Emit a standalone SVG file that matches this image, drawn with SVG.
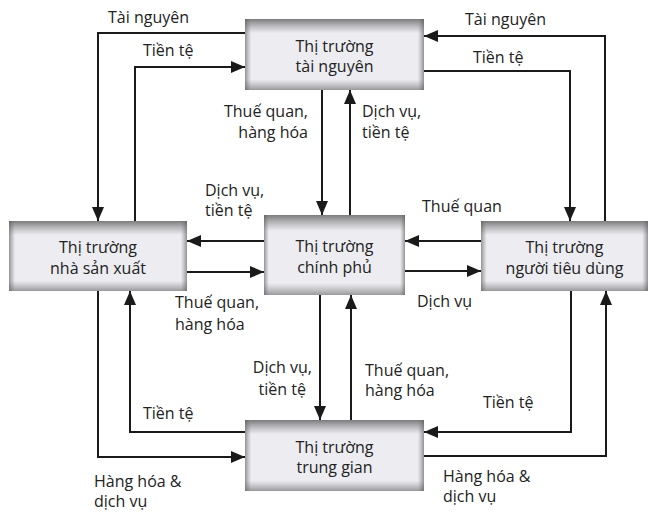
<svg xmlns="http://www.w3.org/2000/svg" width="652" height="513" viewBox="0 0 652 513">
<style>
.t{font-family:"Open Sans","Liberation Sans",sans-serif;font-size:16px;fill:#222}
.m{text-anchor:middle}
.e{text-anchor:end}
.c{fill:none;stroke:#1a1a1a;stroke-width:2;marker-end:url(#ah)}
.n{fill:none;stroke:#1a1a1a;stroke-width:2}
.base{fill:#ececf1}
.vg{fill:url(#vg)}
.hg{fill:url(#hg)}
</style>
<defs>
<linearGradient id="vg" x1="0" y1="0" x2="0" y2="1">
<stop offset="0" stop-color="#555" stop-opacity="0.75"/>
<stop offset="0.2" stop-color="#777" stop-opacity="0"/>
<stop offset="0.85" stop-color="#777" stop-opacity="0"/>
<stop offset="1" stop-color="#555" stop-opacity="0.55"/>
</linearGradient>
<linearGradient id="hg" x1="0" y1="0" x2="1" y2="0">
<stop offset="0" stop-color="#555" stop-opacity="0.6"/>
<stop offset="0.035" stop-color="#777" stop-opacity="0"/>
<stop offset="0.965" stop-color="#777" stop-opacity="0"/>
<stop offset="1" stop-color="#555" stop-opacity="0.6"/>
</linearGradient>
<marker id="ah" markerUnits="userSpaceOnUse" markerWidth="14" markerHeight="12" viewBox="0 0 14 12" refX="14" refY="6" orient="auto">
<path d="M0,0 L14,6 L0,12 z" fill="#1a1a1a"/>
</marker>
</defs>

<g id="connectors">
<!-- top-left -->
<path class="c" d="M245,33 H98 V221"/>
<path class="c" d="M135,221 V67 H245"/>
<!-- top-right -->
<path class="c" d="M605,221 V36 H424"/>
<path class="c" d="M424,71 H570 V221"/>
<!-- top-center -->
<path class="c" d="M322,90 V215"/>
<path class="c" d="M350,215 V90"/>
<!-- center-left -->
<path class="c" d="M264,241 H187"/>
<path class="c" d="M187,272 H264"/>
<!-- center-right -->
<path class="c" d="M481,241 H405"/>
<path class="c" d="M405,271 H481"/>
<!-- bottom-center -->
<path class="c" d="M320,295 V420"/>
<path class="c" d="M351,420 V295"/>
<!-- bottom-left -->
<path class="c" d="M245,432 H130 V291"/>
<path class="c" d="M98,291 V457 H245"/>
<!-- bottom-right -->
<path class="c" d="M571,291 V432 H424"/>
<path class="c" d="M424,456 H606 V291"/>
</g>

<g id="labels">
<text class="t" x="108" y="23">Tài nguyên</text>
<text class="t" x="143" y="56">Tiền tệ</text>
<text class="t" x="465" y="25">Tài nguyên</text>
<text class="t" x="473" y="63">Tiền tệ</text>
<text class="t e" x="308" y="117">Thuế quan,</text>
<text class="t e" x="308" y="138">hàng hóa</text>
<text class="t" x="362" y="117">Dịch vụ,</text>
<text class="t" x="362" y="138">tiền tệ</text>
<text class="t" x="205" y="196">Dịch vụ,</text>
<text class="t" x="205" y="216">tiền tệ</text>
<text class="t" x="422" y="212">Thuế quan</text>
<text class="t" x="175" y="308">Thuế quan,</text>
<text class="t" x="175" y="330">hàng hóa</text>
<text class="t" x="417" y="307">Dịch vụ</text>
<text class="t e" x="312" y="373">Dịch vụ,</text>
<text class="t e" x="306" y="395">tiền tệ</text>
<text class="t" x="365" y="376">Thuế quan,</text>
<text class="t" x="365" y="396">hàng hóa</text>
<text class="t" x="143" y="419">Tiền tệ</text>
<text class="t" x="483" y="408">Tiền tệ</text>
<text class="t" x="94" y="487">Hàng hóa &amp;</text>
<text class="t" x="94" y="507">dịch vụ</text>
<text class="t" x="443" y="482">Hàng hóa &amp;</text>
<text class="t" x="443" y="502">dịch vụ</text>
</g>

<g id="node-tai-nguyen">
<rect class="base" x="245" y="19" width="179" height="71"/>
<rect class="vg" x="245" y="19" width="179" height="71"/>
<rect class="hg" x="245" y="19" width="179" height="71"/>
<text class="t m" x="334.5" y="52">Thị trường</text>
<text class="t m" x="334.5" y="72">tài nguyên</text>
</g>

<g id="node-nha-san-xuat">
<rect class="base" x="9" y="221" width="178" height="70"/>
<rect class="vg" x="9" y="221" width="178" height="70"/>
<rect class="hg" x="9" y="221" width="178" height="70"/>
<text class="t m" x="98" y="253">Thị trường</text>
<text class="t m" x="98" y="274">nhà sản xuất</text>
</g>

<g id="node-chinh-phu">
<rect class="base" x="264" y="215" width="141" height="80"/>
<rect class="vg" x="264" y="215" width="141" height="80"/>
<rect class="hg" x="264" y="215" width="141" height="80"/>
<text class="t m" x="334.5" y="252">Thị trường</text>
<text class="t m" x="334.5" y="273">chính phủ</text>
</g>

<g id="node-nguoi-tieu-dung">
<rect class="base" x="481" y="221" width="167" height="70"/>
<rect class="vg" x="481" y="221" width="167" height="70"/>
<rect class="hg" x="481" y="221" width="167" height="70"/>
<text class="t m" x="564.5" y="253">Thị trường</text>
<text class="t m" x="564.5" y="274">người tiêu dùng</text>
</g>

<g id="node-trung-gian">
<rect class="base" x="245" y="420" width="179" height="71"/>
<rect class="vg" x="245" y="420" width="179" height="71"/>
<rect class="hg" x="245" y="420" width="179" height="71"/>
<text class="t m" x="334.5" y="453">Thị trường</text>
<text class="t m" x="334.5" y="473">trung gian</text>
</g>
</svg>
